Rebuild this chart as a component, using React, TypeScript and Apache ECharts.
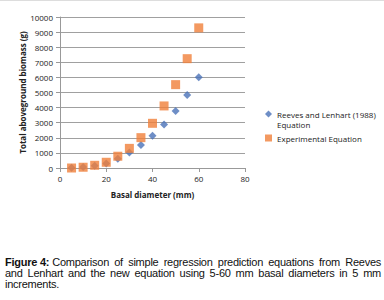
import React, { useEffect, useRef } from "react";
import * as echarts from "echarts";

const diameters = [5, 10, 15, 20, 25, 30, 35, 40, 45, 50, 55, 60];
const reevesValues = [10, 60, 150, 300, 620, 1020, 1530, 2130, 2880, 3780, 4840, 6010];
const experimentalValues = [0, 50, 180, 380, 780, 1300, 2010, 2960, 4110, 5520, 7240, 9280];
const reevesName = "Reeves and Lenhart (1988) Equation";
const experimentalName = "Experimental Equation";
const xTitle = "Basal diameter (mm)";
const yTitle = "Total aboveground biomass (g)";
const captionLabel = "Figure 4:";
const captionLines = [
  "Comparison of simple regression prediction equations from Reeves",
  "and Lenhart and the new equation using 5-60 mm basal diameters in 5 mm",
  "increments.",
];

export default function App() {
  const ref = useRef<HTMLDivElement>(null);
  useEffect(() => {
    document.body.style.margin = "0";
    const chart = echarts.init(ref.current!, null, { renderer: "svg" });
    const labelFont = { fontFamily: "Open Sans", fontSize: 8, color: "#222" };
    chart.setOption({
      animation: false,
      backgroundColor: "#fff",
      grid: { left: 60, right: 139, top: 16, bottom: 84 },
      xAxis: {
        type: "value",
        min: 0,
        max: 80,
        interval: 20,
        name: xTitle,
        nameLocation: "middle",
        nameGap: 22,
        nameTextStyle: { fontFamily: "Open Sans", fontSize: 8, fontWeight: "bold", color: "#222" },
        axisLine: { show: true, onZero: false, lineStyle: { color: "#999", width: 1 } },
        axisTick: { show: true, length: 4, lineStyle: { color: "#999" } },
        axisLabel: { ...labelFont, margin: 6 },
        splitLine: { show: false },
      },
      yAxis: {
        type: "value",
        min: 0,
        max: 10000,
        interval: 1000,
        name: yTitle,
        nameLocation: "middle",
        nameGap: 30,
        nameRotate: 90,
        nameTextStyle: { fontFamily: "Open Sans", fontSize: 8, fontWeight: "bold", color: "#222" },
        axisLine: { show: true, lineStyle: { color: "#999", width: 1 } },
        axisTick: { show: true, length: 4, lineStyle: { color: "#999" } },
        axisLabel: { ...labelFont, margin: 7, formatter: (v: number) => String(v) },
        splitLine: { show: true, lineStyle: { color: "#a0a0a0", width: 1 } },
      },
      legend: {
        orient: "vertical",
        left: 260,
        top: 93,
        itemGap: 4,
        itemWidth: 7,
        itemHeight: 7,
        textStyle: {
          fontFamily: "Open Sans",
          fontSize: 8,
          color: "#222",
          lineHeight: 10,
          rich: {
            s: { fontSize: 8, lineHeight: 10 },
            r: { fontFamily: "Open Sans", fontSize: 8, color: "#222", lineHeight: 10 },
          },
        },
        formatter: (name: string) =>
          name === reevesName
            ? "{s| }\n{r|Reeves and Lenhart (1988)}\n{r|Equation}"
            : "{r|" + name + "}",
        data: [
          { name: reevesName, icon: "diamond" },
          { name: experimentalName, icon: "rect" },
        ],
      },
      series: [
        {
          type: "scatter",
          name: reevesName,
          symbol: "diamond",
          symbolSize: 8,
          itemStyle: { color: "#4a72b8" },
          data: diameters.map((d, i) => [d, reevesValues[i]]),
          z: 2,
        },
        {
          type: "scatter",
          name: experimentalName,
          symbol: "rect",
          symbolSize: 9,
          itemStyle: { color: "#f0803a" },
          data: diameters.map((d, i) => [d, experimentalValues[i]]),
          z: 3,
        },
      ],
    });
    return () => chart.dispose();
  }, []);
  const lineStyle: React.CSSProperties = {
    height: 11,
    lineHeight: "11px",
    textAlign: "justify",
    textAlignLast: "justify",
    whiteSpace: "nowrap",
  };
  return (
    <div style={{ position: "absolute", left: 0, top: 0, width: 384, height: 300, background: "#fff", overflow: "hidden" }}>
      <div ref={ref} style={{ position: "absolute", left: 0, top: 0, width: 384, height: 252, borderTop: "1px solid #ddd", boxSizing: "border-box" }} />
      <div
        style={{
          position: "absolute",
          left: 5,
          top: 257,
          width: 376,
          fontFamily: "'Liberation Sans', Arial, sans-serif",
          fontSize: 11,
          letterSpacing: "-0.25px",
          color: "#111",
        }}
      >
        <div style={{ ...lineStyle, display: "flex", justifyContent: "space-between" }}>
          <b style={{ marginRight: 3 }}>{captionLabel}</b>
          <span style={{ flex: 1, textAlign: "justify", textAlignLast: "justify" }}>{captionLines[0]}</span>
        </div>
        <div style={lineStyle}>{captionLines[1]}</div>
        <div style={{ ...lineStyle, textAlignLast: "left" }}>{captionLines[2]}</div>
      </div>
    </div>
  );
}
